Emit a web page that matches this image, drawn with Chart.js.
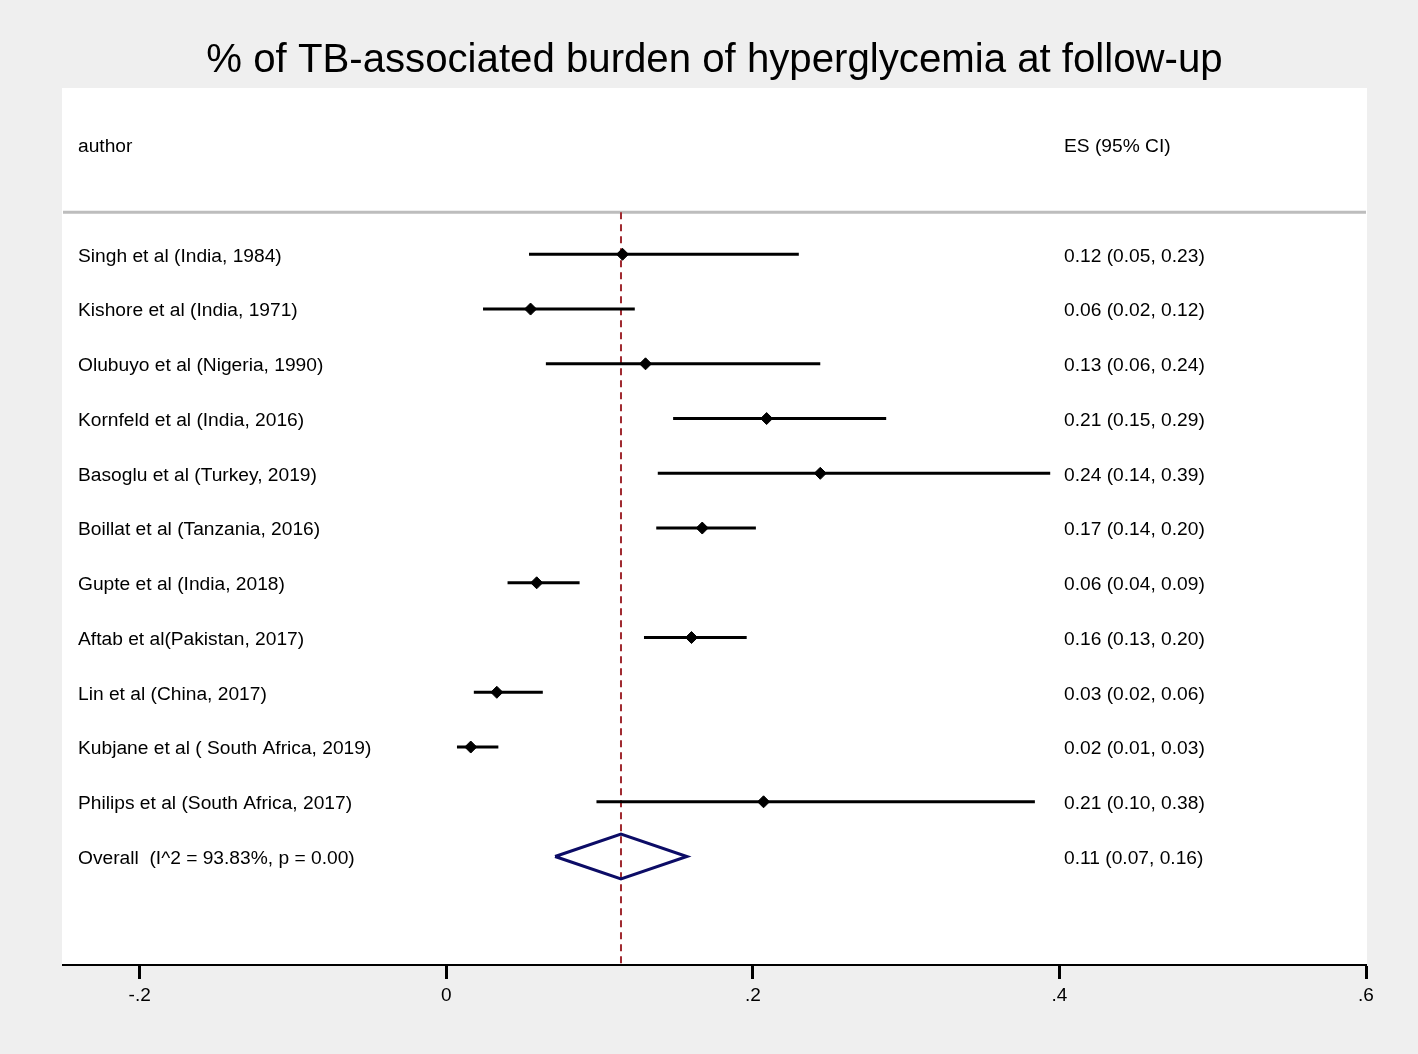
<!DOCTYPE html>
<html lang="en">
<head>
    <meta charset="UTF-8">
    <title>Forest plot</title>
    <script src="https://cdn.jsdelivr.net/npm/chart.js"></script>
    <style>
        html, body { margin: 0; padding: 0; background: #efefef; }
        canvas { display: block; }
    </style>
</head>
<body>
    <canvas id="forest" width="1418" height="1054"></canvas>

    <script>
        // study data
        const authors = [
            'Singh et al (India, 1984)',
            'Kishore et al (India, 1971)',
            'Olubuyo et al (Nigeria, 1990)',
            'Kornfeld et al (India, 2016)',
            'Basoglu et al (Turkey, 2019)',
            'Boillat et al (Tanzania, 2016)',
            'Gupte et al (India, 2018)',
            'Aftab et al(Pakistan, 2017)',
            'Lin et al (China, 2017)',
            'Kubjane et al ( South Africa, 2019)',
            'Philips et al (South Africa, 2017)'
        ];
        const es = [0.115, 0.055, 0.130, 0.209, 0.244, 0.167, 0.059, 0.160, 0.033, 0.016, 0.207];
        const lo = [0.054, 0.024, 0.065, 0.148, 0.138, 0.137, 0.040, 0.129, 0.018, 0.007, 0.098];
        const hi = [0.230, 0.123, 0.244, 0.287, 0.394, 0.202, 0.087, 0.196, 0.063, 0.034, 0.384];
        const esLabels = [
            '0.12 (0.05, 0.23)', '0.06 (0.02, 0.12)', '0.13 (0.06, 0.24)', '0.21 (0.15, 0.29)',
            '0.24 (0.14, 0.39)', '0.17 (0.14, 0.20)', '0.06 (0.04, 0.09)', '0.16 (0.13, 0.20)',
            '0.03 (0.02, 0.06)', '0.02 (0.01, 0.03)', '0.21 (0.10, 0.38)'
        ];

        // pooled estimate
        const overallLabel = 'Overall  (I^2 = 93.83%, p = 0.00)';
        const overallText = '0.11 (0.07, 0.16)';
        const overallEs = 0.114;
        const overallLo = 0.071;
        const overallHi = 0.157;

        const xTicks = [-0.2, 0, 0.2, 0.4, 0.6];
        const xTickLabels = ['-.2', '0', '.2', '.4', '.6'];

        const FONT = '"Liberation Sans", Arial, Helvetica, sans-serif';
        const overallRow = authors.length;
        const headerRow = -2;
        const ruleRow = -0.77;
        const yMin = -3.037;
        const yMax = 12.963;

        const datasets = [];

        // confidence interval lines
        authors.forEach((a, i) => {
            datasets.push({
                data: [{ x: lo[i], y: i }, { x: hi[i], y: i }],
                showLine: true,
                borderColor: '#000',
                borderWidth: 3,
                pointRadius: 0
            });
        });

        // point estimates
        datasets.push({
            data: es.map((v, i) => ({ x: v, y: i })),
            showLine: false,
            pointStyle: 'rectRot',
            pointRadius: 6,
            backgroundColor: '#000',
            borderColor: '#000',
            borderWidth: 1
        });

        // pooled diamond
        datasets.push({
            data: [
                { x: overallLo, y: overallRow },
                { x: overallEs, y: overallRow - 0.41 },
                { x: overallHi, y: overallRow },
                { x: overallEs, y: overallRow + 0.41 },
                { x: overallLo, y: overallRow }
            ],
            showLine: true,
            borderColor: '#0c0c66',
            borderWidth: 3,
            pointRadius: 0
        });

        // dashed line at the pooled estimate
        datasets.push({
            data: [{ x: overallEs, y: ruleRow }, { x: overallEs, y: yMax }],
            showLine: true,
            borderColor: '#a02a30',
            borderWidth: 2,
            borderDash: [7, 5],
            pointRadius: 0
        });

        // white panel, header rule and the text columns
        const forestText = {
            id: 'forestText',
            beforeDatasetsDraw(chart) {
                const { ctx, chartArea, scales } = chart;
                ctx.save();
                ctx.fillStyle = '#fff';
                ctx.fillRect(chartArea.left - 1, chartArea.top, chartArea.right - chartArea.left + 2, chartArea.bottom - chartArea.top);
                const yr = scales.y.getPixelForValue(ruleRow);
                ctx.strokeStyle = '#bdbdbd';
                ctx.lineWidth = 3;
                ctx.beginPath();
                ctx.moveTo(chartArea.left, yr);
                ctx.lineTo(chartArea.right, yr);
                ctx.stroke();
                ctx.restore();
            },
            afterDatasetsDraw(chart) {
                const { ctx, chartArea, scales } = chart;
                const xl = chartArea.left + 15;
                const xr = chartArea.left + 1001;
                const dy = 2; // text sits a touch below the row centre
                ctx.save();
                ctx.fillStyle = '#000';
                ctx.font = '19.2px ' + FONT;
                ctx.textBaseline = 'middle';
                ctx.textAlign = 'left';
                let y = scales.y.getPixelForValue(headerRow) + dy;
                ctx.fillText('author', xl, y);
                ctx.fillText('ES (95% CI)', xr, y);
                authors.forEach((a, i) => {
                    y = scales.y.getPixelForValue(i) + dy;
                    ctx.fillText(a, xl, y);
                    ctx.fillText(esLabels[i], xr, y);
                });
                y = scales.y.getPixelForValue(overallRow) + dy;
                ctx.fillText(overallLabel, xl, y);
                ctx.fillText(overallText, xr, y);
                ctx.restore();
            }
        };

        new Chart(document.getElementById('forest'), {
            type: 'scatter',
            data: { datasets },
            options: {
                responsive: false,
                animation: false,
                layout: { padding: { left: 63, right: 52, top: 0, bottom: 0 } },
                plugins: {
                    legend: { display: false },
                    tooltip: { enabled: false },
                    title: {
                        display: true,
                        text: '% of TB-associated burden of hyperglycemia at follow-up',
                        color: '#000',
                        font: { family: FONT, size: 40.2, weight: 'normal', lineHeight: 1.2 },
                        padding: { top: 37, bottom: 2.8 }
                    }
                },
                scales: {
                    x: {
                        type: 'linear',
                        min: -0.25,
                        max: 0.6,
                        afterBuildTicks: s => { s.ticks = xTicks.map(v => ({ value: v })); },
                        afterFit: s => { s.height = 90; },
                        border: { display: true, color: '#000', width: 3 },
                        grid: { display: true, drawOnChartArea: false, drawTicks: true, tickLength: 15, tickWidth: 3, tickColor: '#000' },
                        ticks: {
                            color: '#000',
                            padding: 5,
                            maxRotation: 0,
                            font: { family: FONT, size: 19 },
                            callback: (v) => xTickLabels[xTicks.findIndex(t => Math.abs(t - v) < 1e-9)]
                        }
                    },
                    y: {
                        type: 'linear',
                        min: yMin,
                        max: yMax,
                        reverse: true,
                        display: false
                    }
                }
            },
            plugins: [forestText]
        });
    </script>
</body>
</html>
